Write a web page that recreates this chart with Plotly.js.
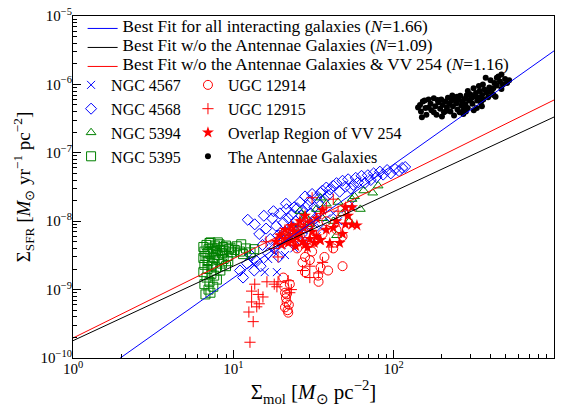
<!DOCTYPE html>
<html>
<head>
<meta charset="utf-8">
<script src="https://cdn.plot.ly/plotly-3.0.1.min.js"></script>
<style>html,body{margin:0;padding:0;background:#fff;}#chart{width:564px;height:407px;}</style>
</head>
<body>
<div id="chart"></div>
<script>
// ---------------- data ----------------
// NGC 4567 (blue crosses)
const n4567_x = [12.5,13.5,15.7,18.7,16.5,18.0,20.0,22.0,24.0,26.0,28.0,30.0,32.0,35.0,38.0,42.0,45.0,50.0,55.0,24.5,27.5,21.0,33.0,19.5];
const n4567_y = [3.0e-9,2.3e-9,1.8e-9,1.8e-9,2.8e-9,3.5e-9,4.5e-9,5.5e-9,4.0e-9,6.5e-9,5.2e-9,7.5e-9,9.0e-9,8.0e-9,1.1e-8,1.3e-8,1.0e-8,1.5e-8,1.8e-8,8.5e-9,1.1e-8,3.2e-9,6.0e-9,6.5e-9];
// NGC 4568 (blue diamonds)
const n4568_x = [11.0,11.5,12.2,12.8,13.5,14.0,12.3,13.6,14.5,15.2,16.0,16.5,17.0,17.5,18.0,18.5,19.0,19.5,20.0,20.5,21.0,21.5,22.0,22.5,23.0,23.5,24.0,24.5,25.0,25.5,26.0,26.5,27.0,28.0,28.5,29.0,30.0,30.5,31.0,32.0,33.0,34.0,35.0,36.0,37.0,38.0,39.0,40.0,42.0,44.0,46.0,48.0,50.0,52.0,54.0,56.0,58.0,60.0,63.0,66.0,69.0,72.0,75.0,78.0,82.0,86.0,91.0,96.0,102.0,108.0,113.0,118.0,15.5,17.8,21.3,19.2,23.8,26.8,32.5,29.5,14.8];
const n4568_y = [1.9e-9,1.5e-9,2.4e-9,3.2e-9,1.9e-9,2.6e-9,1.05e-8,9e-9,6.5e-9,4.5e-9,7.8e-9,3.4e-9,5.5e-9,1.1e-8,4.0e-9,8.5e-9,6.2e-9,1.3e-8,5.0e-9,9.5e-9,7.0e-9,1.5e-8,1.1e-8,5.8e-9,1.25e-8,8.2e-9,1.6e-8,1.0e-8,1.55e-8,7.5e-9,1.9e-8,1.2e-8,1.45e-8,2.3e-8,1.05e-8,1.7e-8,2.0e-8,1.3e-8,2.5e-8,1.6e-8,2.2e-8,1.85e-8,2.6e-8,2.8e-8,2.1e-8,3.1e-8,2.4e-8,2.9e-8,3.3e-8,3.6e-8,2.7e-8,3.9e-8,3.2e-8,4.1e-8,3.0e-8,3.4e-8,4.3e-8,3.7e-8,4.6e-8,3.6e-8,4.7e-8,4.0e-8,5.0e-8,4.4e-8,5.3e-8,4.8e-8,5.6e-8,5.0e-8,5.8e-8,5.4e-8,6.0e-8,6.2e-8,1.2e-8,1.4e-8,1.8e-8,3.0e-9,4.6e-9,6.5e-9,1.1e-8,8.8e-9,2.2e-9];
// NGC 5394 (green triangles)
const n5394_x = [22,25,28,30,33,36,38,42,45,48,53,55,57,62,65,74,80,26,35,44];
const n5394_y = [6e-9,8e-9,1.2e-8,9e-9,1.5e-8,1.1e-8,1.8e-8,1.0e-8,1.9e-8,1.3e-8,1.0e-8,2.1e-8,2.3e-8,1.5e-8,2.8e-8,2.6e-8,3.3e-8,1.4e-8,2.2e-8,6.2e-9];
// NGC 5395 (green squares)
const n5395_x = [6.5,6.6,6.7,6.8,6.9,7.0,7.1,7.2,7.3,7.4,7.5,7.6,7.7,7.8,7.9,8.0,8.2,8.3,8.5,8.6,8.8,9.0,9.2,9.4,9.6,9.8,10.2,10.5,11.0,11.5,12.0,12.8,6.5,6.6,6.7,6.8,6.9,7.0,7.1,7.2,7.3,7.4,7.5,7.6,7.8,7.9,8.1,8.3,8.5,8.7,9.0,9.3,6.5,6.6,7.0,7.2,8.0,6.9,13.5,11.2];
const n5395_y = [4.2e-9,3.6e-9,3.1e-9,4.5e-9,2.6e-9,3.9e-9,4.8e-9,3.3e-9,2.2e-9,4.1e-9,3.7e-9,2.9e-9,4.4e-9,3.5e-9,4.0e-9,3.2e-9,4.6e-9,3.8e-9,3.4e-9,4.2e-9,3.7e-9,4.4e-9,3.1e-9,3.9e-9,4.1e-9,3.5e-9,3.8e-9,4.3e-9,3.6e-9,3.3e-9,4.0e-9,3.5e-9,1.8e-9,1.2e-9,8.5e-10,1.5e-9,2.0e-9,1.0e-9,1.3e-9,9e-10,1.7e-9,2.4e-9,1.1e-9,1.6e-9,2.1e-9,1.4e-9,2.7e-9,1.9e-9,2.4e-9,2.8e-9,2.2e-9,2.6e-9,2.9e-9,2.3e-9,2.6e-9,4.9e-9,4.9e-9,3.4e-9,3.9e-9,4.6e-9];
// UGC 12914 (red circles)
const u12914_x = [20.5,20.8,21.0,21.3,21.5,21.0,21.8,22.2,22.0,21.5,22.5,28,37,48,39,34,28,33.8,27,30,31,35,42,25,26,32,36,44,38,30,24,48];
const u12914_y = [1.5e-9,1.1e-9,9e-10,7.5e-10,6.5e-10,5.5e-10,5e-10,6e-10,4.6e-10,8.5e-10,1.2e-9,3e-9,3e-9,2.2e-9,1.9e-9,1.3e-9,1.8e-9,1.6e-9,2.5e-9,2.7e-9,3.6e-9,2.1e-9,4.0e-9,4.0e-9,6.0e-9,5.0e-9,6.5e-9,7.5e-9,1.0e-8,9.0e-9,8.0e-9,6.0e-9];
// UGC 12915 (red pluses)
const u12915_x = [12.7,13.3,12.5,14.0,13.0,15.3,14.3,13.0,13.6,16.2,19.0,18.7,22.0,22.5,14.5,18.0,27,30,30,36,34,23,41,16,18,20,22,25,31,42,35,28,24,38,45,50,19];
const u12915_y = [1.7e-10,3.4e-10,4.7e-10,5.6e-10,6.6e-10,7.8e-10,8.5e-10,9.5e-10,1.2e-9,1.3e-9,1.3e-9,1.1e-9,1.35e-9,9e-10,6.2e-10,1.2e-9,1.9e-9,2.2e-9,1.5e-9,2.5e-9,1.75e-9,1.0e-9,4.2e-9,5e-9,4e-9,6.5e-9,7.5e-9,9e-9,2.2e-8,2.1e-8,1.3e-8,1.0e-8,5e-9,1.6e-8,1.4e-8,1.2e-8,3.0e-9];
// Overlap region of VV 254 (red stars)
const vv254_x = [20,21,22,22.6,23,24,24.5,25,26,27,27.5,28,29,30,31,32,33,34.6,35,36,38,40,42,44,46,48,50,50,52,55,55,59,26,28,30,23,21,33,18.5,19.5];
const vv254_y = [4.5e-9,5.5e-9,4.8e-9,6e-9,5.2e-9,7e-9,4.3e-9,5.8e-9,6.5e-9,5e-9,8e-9,4.5e-9,4.1e-9,5.5e-9,7e-9,4.8e-9,6e-9,5.3e-9,5.3e-9,1.45e-8,7.5e-9,4.8e-9,8e-9,1.0e-8,4.8e-9,6.5e-9,9e-9,1.6e-8,1.2e-8,8.9e-9,1.6e-8,8.7e-9,1.0e-8,1.2e-8,9.5e-9,8.5e-9,7.5e-9,1.1e-8,5e-9,6.2e-9];
// The Antennae Galaxies (black dots)
const ant_x = [146,148,150,152,158,160,165,170,172,178,182,185,190,195,198,202,206,210,215,218,222,226,230,234,238,242,246,250,255,260,264,268,272,276,280,285,290,295,300,305,310,316,320,326,332,338,344,350,356,362,368,375,380,388,395,402,410,418,425,432,440,450,460,470,480,495,510,525,165,188,212,248,274,178,200,156,232,258,142,290,315,340,360,470,440,400,420,355,330,282];
const ant_y = [5.0e-7,4.0e-7,3.3e-7,5.6e-7,4.5e-7,3.6e-7,6.0e-7,5.2e-7,4.2e-7,6.3e-7,4.8e-7,3.6e-7,5.5e-7,4.4e-7,6.0e-7,5.0e-7,3.9e-7,5.6e-7,4.6e-7,6.4e-7,5.2e-7,4.0e-7,5.8e-7,4.8e-7,3.5e-7,6.2e-7,5.3e-7,4.3e-7,5.9e-7,6.8e-7,4.9e-7,5.6e-7,3.7e-7,6.1e-7,5.1e-7,6.9e-7,4.5e-7,5.8e-7,7.2e-7,6.3e-7,5.2e-7,4.2e-7,6.7e-7,7.5e-7,5.8e-7,6.4e-7,8.0e-7,5.5e-7,7.0e-7,6.0e-7,8.4e-7,1.25e-6,7.6e-7,6.5e-7,9.0e-7,1.15e-6,7.4e-7,8.8e-7,1.05e-6,6.6e-7,9.6e-7,1.3e-6,1.1e-6,8.6e-7,1.0e-6,1.2e-6,1.05e-6,1.15e-6,4.6e-7,5.9e-7,4.1e-7,6.6e-7,4.3e-7,3.9e-7,3.4e-7,5.8e-7,6.9e-7,3.9e-7,4.6e-7,8.0e-7,8.8e-7,9.5e-7,1.0e-6,1.4e-6,1.25e-6,8.2e-7,7.0e-7,4.8e-7,4.5e-7,4.0e-7];

// Best-fit lines: log10(SFR) = logA + N*log10(mol)
const fitNames = ['Best Fit for all interacting galaxies (<i>N</i>=1.66)',
                  'Best Fit w/o the Antennae Galaxies (<i>N</i>=1.09)',
                  'Best Fit w/o the Antennae Galaxies &amp; VV 254 (<i>N</i>=1.16)'];
const fitN = [1.66, 1.09, 1.16];
const fitLogA = [-10.49, -9.747, -9.708];
const fitRange = [1, 1000];

// tick labels
const xTickVals = [1, 10, 100, 1000];
const xTickText = ['10<sup>0</sup>','10<sup>1</sup>','10<sup>2</sup>','10<sup>3</sup>'];
const yTickVals = [1e-10, 1e-9, 1e-8, 1e-7, 1e-6, 1e-5];
const yTickText = ['10<sup>−10</sup>','10<sup>−9</sup>','10<sup>−8</sup>','10<sup>−7</sup>','10<sup>−6</sup>','10<sup>−5</sup>'];

// ---------------- build ----------------
const BLUE = '#0000ff', RED = '#ff0000', GREEN = '#008000';
const FONT = 'Liberation Serif, Times New Roman, serif';

function sc(name, x, y, symbol, size, color, legend, lw) {
  return {
    type: 'scatter', mode: 'markers', name: name, x: x, y: y,
    legend: legend,
    marker: {symbol: symbol, size: size, color: color, line: {color: color, width: lw}},
    hoverinfo: 'x+y'
  };
}

const traces = [
  sc('NGC 4567', n4567_x, n4567_y, 'x-thin-open', 8, BLUE, 'legend2', 1),
  sc('NGC 4568', n4568_x, n4568_y, 'diamond-open', 8.5, BLUE, 'legend2', 1),
  sc('NGC 5394', n5394_x, n5394_y, 'triangle-up-open', 8.5, GREEN, 'legend2', 1),
  sc('NGC 5395', n5395_x, n5395_y, 'square-open', 9, GREEN, 'legend2', 1),
  sc('UGC 12914', u12914_x, u12914_y, 'circle-open', 9, RED, 'legend3', 1),
  sc('UGC 12915', u12915_x, u12915_y, 'cross-thin-open', 8, RED, 'legend3', 1),
  sc('Overlap Region of VV 254', vv254_x, vv254_y, 'star', 9, RED, 'legend3', 0),
  sc('The Antennae Galaxies', ant_x, ant_y, 'circle', 6, 'black', 'legend3', 0)
];
const fitColors = [BLUE, 'black', RED];
for (let i = 0; i < fitN.length; i++) {
  traces.push({
    type: 'scatter', mode: 'lines', name: '<span style="font-size:17.2px">' + fitNames[i] + '</span>',
    x: fitRange, y: fitRange.map(v => Math.pow(10, fitLogA[i] + fitN[i] * Math.log10(v))),
    line: {color: fitColors[i], width: 1}, legend: 'legend'
  });
}
// placeholder trace carrying the labelled major-tick overlay axes
traces.push({type: 'scatter', mode: 'markers', x: [1], y: [1e-20], xaxis: 'x2', yaxis: 'y2', showlegend: false, hoverinfo: 'skip', marker: {size: 1, color: 'rgba(0,0,0,0)'}});

const legendBase = {bgcolor: 'rgba(0,0,0,0)', borderwidth: 0, xanchor: 'left', yanchor: 'top',
                    itemwidth: 30, tracegroupgap: 0, font: {family: FONT, size: 16, color: 'black'}};

// main axes: all decade sub-ticks (minor ticks), no labels
const minorAxis = {type: 'log', ticks: 'inside', ticklen: 4, tickcolor: 'black', dtick: 'D1',
                   showticklabels: false, showgrid: false, zeroline: false,
                   showline: true, linecolor: 'black', linewidth: 1, mirror: true};
// overlay axes: decade ticks with labels and titles
const majorAxis = {type: 'log', tickmode: 'array', ticks: 'inside', ticklen: 8, tickcolor: 'black',
                   showgrid: false, zeroline: false, showline: false, tickfont: {family: FONT, size: 15}};

const layout = {
  width: 564, height: 407,
  margin: {l: 73, r: 10, t: 16, b: 49},
  paper_bgcolor: 'white', plot_bgcolor: 'white',
  font: {family: FONT, size: 15, color: 'black'},
  showlegend: true,
  legend: Object.assign({}, legendBase, {x: 0.02, y: 1.006, font: {family: FONT, size: 10, color: 'black'}}),
  legend2: Object.assign({}, legendBase, {x: -0.004, y: 0.848}),
  legend3: Object.assign({}, legendBase, {x: 0.239, y: 0.848}),
  xaxis: Object.assign({}, minorAxis, {range: [0, 3]}),
  yaxis: Object.assign({}, minorAxis, {range: [-10, -5]}),
  xaxis2: Object.assign({}, majorAxis, {
    range: [0, 3], overlaying: 'x', anchor: 'y', side: 'bottom',
    tickvals: xTickVals, ticktext: xTickText,
    title: {text: 'Σ<sub>mol</sub> [<i>M</i><sub>⊙</sub> pc<sup>−2</sup>]', font: {family: FONT, size: 21}, standoff: 8}
  }),
  yaxis2: Object.assign({}, majorAxis, {
    range: [-10, -5], overlaying: 'y', anchor: 'x', side: 'left',
    tickvals: yTickVals, ticktext: yTickText,
    title: {text: 'Σ<sub>SFR</sub> [<i>M</i><sub>⊙</sub> yr<sup>−1</sup> pc<sup>−2</sup>]', font: {family: FONT, size: 19}, standoff: 4}
  })
};

Plotly.newPlot('chart', traces, layout, {staticPlot: true, displayModeBar: false});
</script>
</body>
</html>
